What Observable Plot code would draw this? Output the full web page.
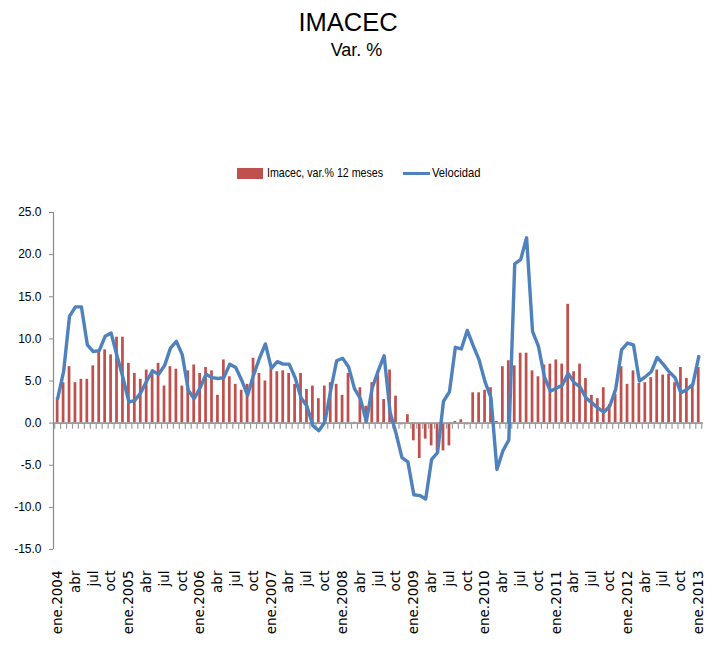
<!DOCTYPE html>
<html>
<head>
<meta charset="utf-8">
<script src="https://cdn.jsdelivr.net/npm/d3@7"></script>
<script src="https://cdn.jsdelivr.net/npm/@observablehq/plot@0.6"></script>
<style>
  html, body { margin: 0; padding: 0; background: #fff; overflow: hidden; }
  #wrap { position: relative; width: 716px; height: 645px; overflow: hidden; }
  #head { position: relative; width: 716px; height: 190px; }
  .abs { position: absolute; white-space: nowrap; }
  #title { left: 0; width: 696px; text-align: center; top: 9px; font: 25.5px/26px "Liberation Sans", Arial, sans-serif; color: #000; }
  #sub { left: 0; width: 713px; text-align: center; top: 41px; font: 18px/18px "Liberation Sans", Arial, sans-serif; color: #000; }
  .leg { top: 166px; font: 13px/13px "Liberation Sans", Arial, sans-serif; color: #000; transform-origin: 0 50%; }
  #chart svg { display: block; }
</style>
</head>
<body>
<div id="wrap">
  <div id="head">
    <div id="title" class="abs">IMACEC</div>
    <div id="sub" class="abs">Var. %</div>
    <div class="abs" style="left:237px;top:168px;width:26px;height:11px;background:#c0504d"></div>
    <div class="abs leg" style="left:267px;transform:scaleX(0.82)">Imacec, var.% 12 meses</div>
    <div class="abs" style="left:403px;top:172px;width:27px;height:3px;background:#4f81bd"></div>
    <div class="abs leg" style="left:432px;transform:scaleX(0.86)">Velocidad</div>
  </div>
  <div id="chart"></div>
</div>
<script>
// Monthly series, ene.2004 .. ene.2013 (109 months)
const imacec = [
  3.0, 4.8, 6.7, 4.8, 5.2, 5.2, 6.8, 8.6, 8.7, 8.1, 10.2, 10.2,
  7.1, 5.9, 5.2, 6.3, 6.3, 7.1, 4.4, 6.7, 6.4, 4.4, 6.2, 6.9,
  5.9, 6.6, 6.2, 3.3, 7.5, 5.5, 4.6, 3.9, 4.6, 7.7, 5.9, 5.0,
  6.4, 6.1, 6.2, 5.9, 4.6, 5.9, 4.0, 4.4, 2.9, 4.4, 4.8, 4.6,
  3.3, 5.9, 0.1, 4.2, 2.0, 4.8, 6.0, 2.8, 6.3, 3.2, -0.2, 1.0,
  -2.1, -4.2, -1.9, -2.7, -3.4, -3.3, -2.7, 0.2, 0.4, -0.2, 3.6, 3.6,
  3.9, 4.2, 0.2, 6.7, 7.4, 6.8, 8.3, 8.3, 6.2, 5.5, 6.9, 7.0,
  7.5, 7.0, 14.1, 6.1, 7.0, 5.3, 3.3, 2.9, 4.2, 2.2, 3.4, 6.7,
  4.6, 6.2, 4.7, 4.8, 5.4, 6.3, 5.7, 5.8, 4.8, 6.6, 5.3, 4.6,
  6.6
];
const velocidad = [
  2.9, 6.1, 12.7, 13.8, 13.8, 9.3, 8.5, 8.6, 10.3, 10.7, 8.0, 5.4,
  2.5, 2.7, 3.6, 5.0, 6.2, 5.8, 6.8, 8.9, 9.7, 8.1, 3.9, 2.9,
  4.2, 5.8, 5.4, 5.3, 5.4, 7.0, 6.6, 5.1, 3.3, 5.7, 7.7, 9.4,
  6.5, 7.3, 7.0, 7.0, 5.4, 3.0, 2.0, -0.3, -0.9, 0.1, 3.9, 7.4,
  7.7, 6.7, 4.1, 2.9, 0.2, 4.2, 6.2, 8.0, 1.3, -1.2, -4.1, -4.6,
  -8.5, -8.6, -9.0, -4.3, -3.5, 2.6, 3.7, 9.0, 8.8, 11.0, 9.2, 7.5,
  4.9, 3.0, -5.5, -3.3, -2.0, 18.9, 19.4, 22.0, 10.9, 9.1, 5.5, 3.8,
  4.15, 4.5, 5.9, 4.8, 4.3, 3.0, 2.4, 1.8, 1.3, 2.0, 4.0, 8.7,
  9.5, 9.3, 5.0, 5.5, 6.1, 7.8, 7.0, 6.1, 5.4, 3.6, 4.0, 4.6,
  7.9
];
const tickLabels = [
  "ene.2004", "abr", "jul", "oct",
  "ene.2005", "abr", "jul", "oct",
  "ene.2006", "abr", "jul", "oct",
  "ene.2007", "abr", "jul", "oct",
  "ene.2008", "abr", "jul", "oct",
  "ene.2009", "abr", "jul", "oct",
  "ene.2010", "abr", "jul", "oct",
  "ene.2011", "abr", "jul", "oct",
  "ene.2012", "abr", "jul", "oct",
  "ene.2013"
];
const yTicks = [-15, -10, -5, 0, 5, 10, 15, 20, 25];

const data = imacec.map((v, i) => ({i, imacec: v, vel: velocidad[i]}));
const labelIdx = tickLabels.map((_, k) => k * 3);
const bounds = d3.range(-1, imacec.length).map(i => i + 0.5);

const chart = Plot.plot({
  width: 716,
  height: 455,
  marginTop: 22,
  marginBottom: 96,
  marginLeft: 53,
  marginRight: 13,
  style: {background: "transparent", overflow: "visible"},
  x: {type: "linear", domain: [-0.7, 108.8], axis: null},
  y: {domain: [-15, 25], axis: null},
  marks: [
    Plot.rectY(data, {x1: d => d.i - 0.23, x2: d => d.i + 0.23, y: "imacec", fill: "#c0504d"}),
    Plot.ruleY([0], {stroke: "#9a9a9a", strokeWidth: 1.6}),
    Plot.ruleX(bounds, {x: d => d, y1: 0, y2: 0, insetBottom: -6, stroke: "#9a9a9a", strokeWidth: 1.2}),
    Plot.ruleX([-0.7], {stroke: "#8a8a8a", strokeWidth: 1.2}),
    Plot.axisY({
      ticks: yTicks, tickFormat: d => d.toFixed(1), tickSize: 4, tickPadding: 8,
      stroke: "#8a8a8a", fill: "#000", fontSize: 12, fontFamily: "Liberation Sans, Arial, sans-serif", label: null
    }),
    Plot.line(data, {x: "i", y: "vel", stroke: "#4f81bd", strokeWidth: 3.4, curve: "linear"}),
    Plot.axisX({
      ticks: labelIdx, tickFormat: i => tickLabels[i / 3], tickSize: 0, tickPadding: 21, tickRotate: -90,
      fill: "#000", fontSize: 13.5, fontFamily: "DejaVu Sans, sans-serif", label: null
    })
  ]
});
document.getElementById("chart").appendChild(chart);
</script>
</body>
</html>
